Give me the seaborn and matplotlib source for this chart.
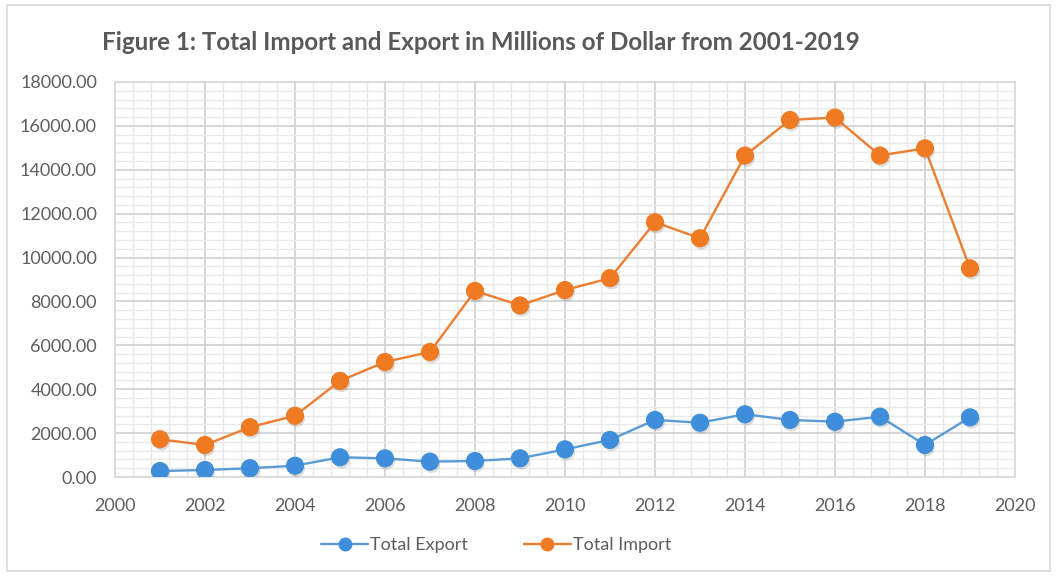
import matplotlib
matplotlib.use("Agg")
import matplotlib.pyplot as plt
import matplotlib.patheffects as pe
from matplotlib.ticker import MultipleLocator, FormatStrFormatter
from matplotlib.patches import Rectangle
import seaborn as sns
import pandas as pd

years = list(range(2001, 2020))
total_export = [270, 320, 400, 515, 900, 850, 700, 730, 850, 1260, 1690,
                2600, 2475, 2860, 2600, 2520, 2750, 1460, 2720]
total_import = [1720, 1460, 2270, 2790, 4380, 5240, 5700, 8480, 7820, 8520,
                9060, 11610, 10880, 14650, 16270, 16380, 14650, 14980, 9510]
series_names = ["Total Export", "Total Import"]
series_colors = ["#3E8EDC", "#F07A22"]
line_colors = ["#5B9BD5", "#ED7D31"]

df = pd.DataFrame({
    "Year": years * 2,
    "Value": total_export + total_import,
    "Series": [series_names[0]] * len(years) + [series_names[1]] * len(years),
})

sns.set_theme(style="white")
plt.rcParams["font.family"] = ["Lato", "DejaVu Sans"]

fig = plt.figure(figsize=(10.56, 5.76), dpi=100)
ax = fig.add_axes([115 / 1056, 1 - 477 / 576, 900 / 1056, 395 / 576])

sns.lineplot(data=df, x="Year", y="Value", hue="Series", palette=dict(zip(series_names, line_colors)),
             linewidth=1.7, ax=ax, legend=False)
for name, mc in zip(series_names, series_colors):
    sub = df[df["Series"] == name]
    sns.scatterplot(data=sub, x="Year", y="Value", color=mc, s=150, edgecolor=mc,
                    linewidth=0.8, ax=ax, zorder=4, legend=False)
for coll in ax.collections:
    coll.set_path_effects([pe.SimplePatchShadow(offset=(1, -2), alpha=0.25, shadow_rgbFace="#777777"), pe.Normal()])

ax.set_xlim(2000, 2020)
ax.set_ylim(0, 18000)
ax.xaxis.set_major_locator(MultipleLocator(2))
ax.xaxis.set_minor_locator(MultipleLocator(0.4))
ax.yaxis.set_major_locator(MultipleLocator(2000))
ax.yaxis.set_minor_locator(MultipleLocator(400))
ax.yaxis.set_major_formatter(FormatStrFormatter("%.2f"))
ax.grid(which="major", color="#D3D3D3", linewidth=1.3)
ax.grid(which="minor", color="#E9E9E9", linewidth=1.0)
ax.set_axisbelow(True)
ax.tick_params(which="both", length=0)
ax.tick_params(axis="both", labelsize=13, labelcolor="#5E5E5E")
ax.tick_params(axis="x", pad=15)
ax.tick_params(axis="y", pad=13)
for s in ax.spines.values():
    s.set_color("#D9D9D9")
    s.set_linewidth(1.2)
ax.set_xlabel("")
ax.set_ylabel("")

fig.text(481 / 1056, 1 - 42 / 576, "Figure 1: Total Import and Export in Millions of Dollar from 2001-2019",
         ha="center", va="center", fontsize=17.4, fontweight="bold", color="#595959")

handles = [plt.Line2D([], [], color=lc, linewidth=1.7, marker="o", markersize=9,
                      markerfacecolor=mc, markeredgecolor=mc)
           for lc, mc in zip(line_colors, series_colors)]
fig.legend(handles, series_names, loc="center", bbox_to_anchor=(496 / 1056, 1 - 545 / 576), ncol=2,
           frameon=False, fontsize=13, labelcolor="#5E5E5E", handlelength=2.6,
           handletextpad=0.1, columnspacing=3.1)

fig.add_artist(Rectangle((7 / 1056, 5 / 576), 1043 / 1056, 566 / 576, transform=fig.transFigure,
                         fill=False, edgecolor="#D9D9D9", linewidth=1.2))

fig.savefig("out.png", dpi=100)
